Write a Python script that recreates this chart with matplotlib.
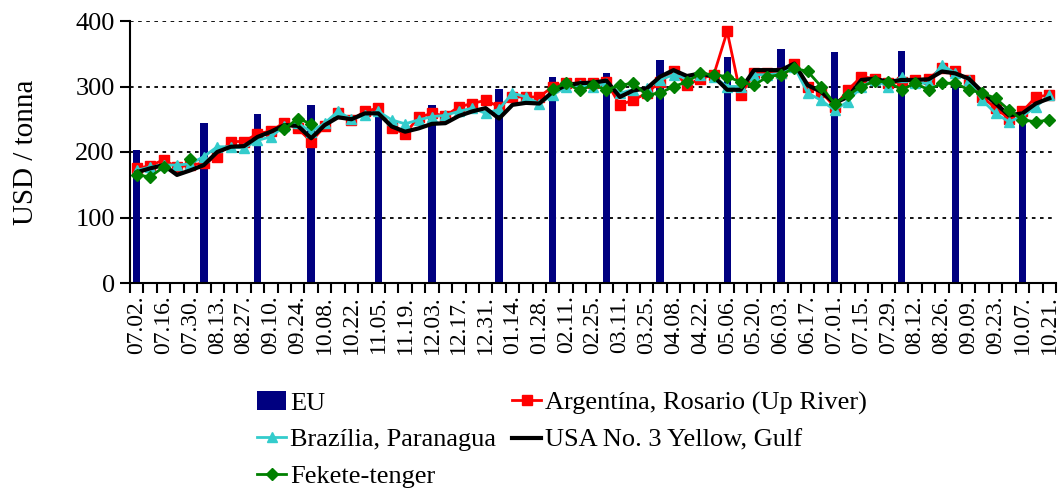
import numpy as np
import matplotlib
matplotlib.use("Agg")
import matplotlib.pyplot as plt

nan = np.nan

# heti dátumok (07.02. -> 10.21.)
weeks = ["07.02.", "07.09.", "07.16.", "07.23.", "07.30.", "08.06.", "08.13.", "08.20.", "08.27.",
         "09.03.", "09.10.", "09.17.", "09.24.", "10.01.", "10.08.", "10.15.", "10.22.", "10.29.",
         "11.05.", "11.12.", "11.19.", "11.26.", "12.03.", "12.10.", "12.17.", "12.24.", "12.31.",
         "01.07.", "01.14.", "01.21.", "01.28.", "02.04.", "02.11.", "02.18.", "02.25.", "03.04.",
         "03.11.", "03.18.", "03.25.", "04.01.", "04.08.", "04.15.", "04.22.", "04.29.", "05.06.",
         "05.13.", "05.20.", "05.27.", "06.03.", "06.10.", "06.17.", "06.24.", "07.01.", "07.08.",
         "07.15.", "07.22.", "07.29.", "08.05.", "08.12.", "08.19.", "08.26.", "09.02.", "09.09.",
         "09.16.", "09.23.", "09.30.", "10.07.", "10.14.", "10.21."]

# EU: havi adat (hónap első hete)
eu_weeks = ["07.02.", "08.06.", "09.03.", "10.01.", "11.05.", "12.03.", "01.07.", "02.04.",
            "03.04.", "04.01.", "05.06.", "06.03.", "07.01.", "08.05.", "09.02.", "10.07."]
eu = [203, 244, 258, 271, 255, 271, 296, 314, 320, 340, 345, 357, 353, 354, 305, 262]

argentina = [175, 179, 188, 177, 180, 183, 193, 216, 216, 228,
             232, 245, 236, 216, 239, 259, 249, 262, 267, 236,
             228, 253, 259, 255, 269, 274, 279, 269, 284, 284,
             284, 300, 305, 305, 305, 307, 272, 279, 290, 307,
             323, 302, 312, 318, 384, 287, 320, 320, 320, 335,
             300, 292, 269, 295, 315, 312, 305, 307, 310, 312,
             328, 323, 310, 284, 267, 251, 262, 284, 287]

brazil = [172, 177, 180, 180, 182, 193, 208, 208, 206, 218,
          223, 240, 244, 231, 244, 262, 250, 256, 262, 249,
          243, 249, 254, 256, 262, 267, 259, 265, 290, 284,
          274, 287, 300, 302, 300, 305, 290, 295, 298, 310,
          318, 312, 318, 315, 300, 300, 318, 318, 320, 330,
          290, 279, 264, 277, 300, 310, 300, 315, 305, 305,
          333, 320, 310, 279, 259, 246, 255, 269, 287]

usa = [169, 175, 180, 165, 172, 180, 200, 208, 209, 223,
       231, 241, 240, 221, 241, 253, 250, 259, 259, 239,
       231, 236, 243, 244, 255, 262, 267, 251, 272, 275,
       274, 292, 302, 305, 306, 309, 284, 294, 297, 315,
       325, 316, 320, 315, 295, 295, 325, 325, 325, 335,
       302, 292, 275, 284, 310, 312, 307, 310, 310, 311,
       323, 320, 312, 292, 274, 256, 259, 274, 282]

black_sea = [165, 162, 177, nan, 190, nan, nan, nan, nan, nan,
             nan, 235, 251, 243, nan, nan, nan, nan, nan, nan,
             nan, nan, nan, nan, nan, nan, nan, nan, nan, nan,
             nan, 296, 305, 294, 302, 295, 302, 305, 287, 290,
             300, 307, 320, 318, 315, 307, 302, 315, 318, 328,
             323, 300, 274, 287, 300, 308, 307, 295, 305, 295,
             305, 305, 295, 290, 282, 264, 249, 246, 249]

plt.rcParams['font.family'] = ['Liberation Serif', 'DejaVu Serif']

x = np.arange(len(weeks))
eu_x = [weeks.index(w) for w in eu_weeks]

fig = plt.figure(figsize=(10.64, 4.88), dpi=100)
ax = fig.add_axes([130 / 1064, 1 - 283 / 488, 926 / 1064, 262 / 488])

bars = ax.bar(eu_x, eu, width=0.55, color='#000080', label='EU', zorder=2)
l_arg, = ax.plot(x, argentina, color='#FF0000', lw=2, marker='s', ms=7, label='Argentína, Rosario (Up River)', zorder=3)
l_bra, = ax.plot(x, brazil, color='#33CCCC', lw=2, marker='^', ms=7, label='Brazília, Paranagua', zorder=4)
l_usa, = ax.plot(x, usa, color='black', lw=3, label='USA No. 3 Yellow, Gulf', zorder=5)
l_bs, = ax.plot(x, black_sea, color='#008000', lw=2, marker='D', ms=6.5, label='Fekete-tenger', zorder=6)

ax.set_xlim(-0.5, len(weeks) - 0.5)
ax.set_ylim(0, 400)
ax.set_yticks([0, 100, 200, 300, 400])
ax.yaxis.grid(True, color='black', linestyle=(0, (2, 2.5)), linewidth=1.3)
ax.set_axisbelow(True)

ax.set_xticks(x[::2])
ax.set_xticklabels(weeks[::2], rotation=90)
ax.set_xticks(np.arange(-0.5, len(weeks), 1), minor=True)
ax.tick_params(axis='x', which='major', length=0, pad=9, labelsize=17)
ax.tick_params(axis='x', which='minor', length=7, width=1.5, direction='out')
ax.tick_params(axis='y', length=7, width=1.5, labelsize=19, pad=4)

for s in ['top', 'right']:
    ax.spines[s].set_visible(False)
for s in ['left', 'bottom']:
    ax.spines[s].set_linewidth(1.5)

ax.set_ylabel("USD / tonna", fontsize=21, labelpad=26)

handles = [bars, l_bra, l_bs, l_arg, l_usa]
fig.legend(handles=handles, labels=[h.get_label() for h in handles],
           loc='upper left', bbox_to_anchor=(244 / 1064, 1 - 378 / 488),
           ncol=2, frameon=False, fontsize=19, handlelength=1.1, handletextpad=0.15,
           columnspacing=0.6, labelspacing=0.5, borderpad=0)

fig.savefig("out.png", dpi=100)
